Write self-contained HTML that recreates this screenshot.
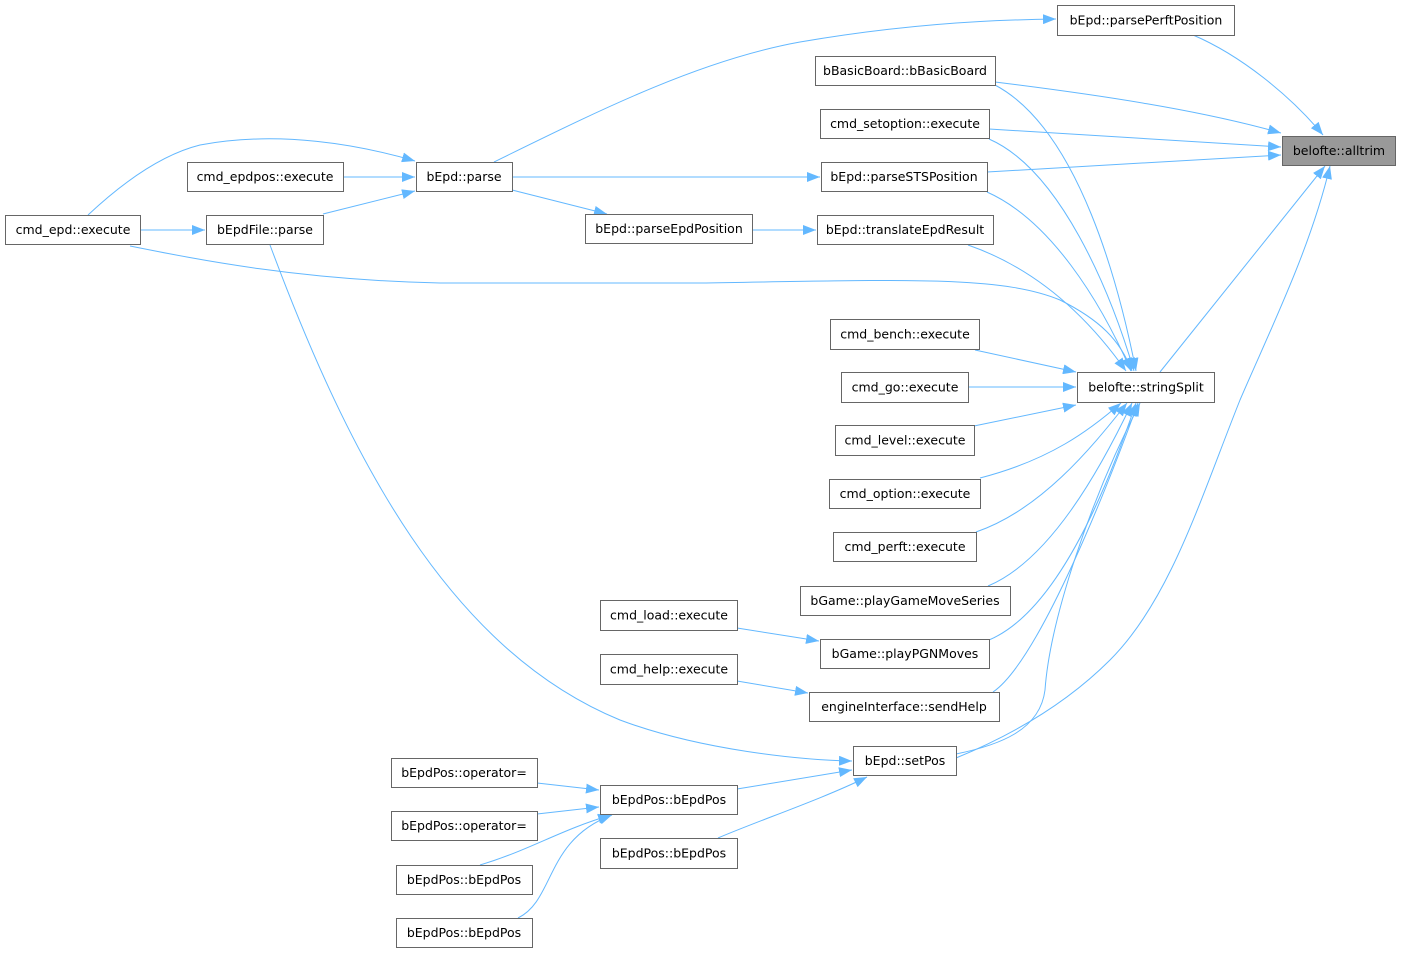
<!DOCTYPE html>
<html><head><meta charset="utf-8"><style>
html,body{margin:0;padding:0;background:#fff;}
svg{display:block;}
text{font-family:"DejaVu Sans","Liberation Sans",sans-serif;font-size:12.5px;fill:#000;}
</style></head><body>
<svg width="1401" height="954" viewBox="0 0 1401 954" xmlns="http://www.w3.org/2000/svg">
<defs>
<marker id="a" markerUnits="userSpaceOnUse" markerWidth="14" markerHeight="10" refX="13" refY="5" orient="auto">
<path d="M0,0 L13,5 L0,10 Z" fill="#63b8ff"/>
</marker>
</defs>
<g fill="none" stroke="#63b8ff" stroke-width="1" marker-end="url(#a)">
<path d="M494,162 C600,110 700,60 800,42 C900,25 980,20 1056,19"/>
<path d="M1193,35 C1240,55 1290,95 1323,135"/>
<path d="M995,82 C1100,95 1200,110 1281,133"/>
<path d="M989,129 L1281,147"/>
<path d="M987,172 L1281,155"/>
<path d="M1160,372 L1325,166"/>
<path d="M956,758 C1000,740 1060,710 1110,660 C1170,600 1200,500 1240,400 C1270,330 1310,250 1330,166"/>
<path d="M512,177 L820,177"/>
<path d="M343,177 L415,177"/>
<path d="M88,215 C120,185 160,155 200,145 C280,130 360,145 415,161"/>
<path d="M323,214 L415,191"/>
<path d="M140,230 L205,230"/>
<path d="M512,190 L607,214"/>
<path d="M752,230 L816,230"/>
<path d="M130,246 C200,260 300,280 440,283 L700,283 C900,280 1000,275 1060,300 C1100,320 1120,340 1132,371"/>
<path d="M995,85 C1080,130 1120,290 1136,371"/>
<path d="M989,139 C1060,170 1110,290 1134,371"/>
<path d="M987,192 C1050,220 1100,300 1131,371"/>
<path d="M968,245 C1040,270 1090,320 1126,371"/>
<path d="M975,350 L1076,372"/>
<path d="M968,387 L1076,387"/>
<path d="M974,426 L1076,405"/>
<path d="M980,478 C1050,460 1090,430 1121,403"/>
<path d="M976,532 C1040,510 1090,450 1127,403"/>
<path d="M988,586 C1050,560 1100,470 1132,403"/>
<path d="M989,640 C1060,610 1110,480 1136,403"/>
<path d="M993,692 C1040,660 1110,480 1138,403"/>
<path d="M956,754 C1000,745 1040,730 1045,690 C1050,620 1090,500 1140,403"/>
<path d="M270,245 C350,460 450,650 620,720 C700,750 800,760 852,761"/>
<path d="M737,628 L819,641"/>
<path d="M737,681 L808,693"/>
<path d="M737,789 L852,770"/>
<path d="M718,838 C760,820 820,800 867,777"/>
<path d="M537,783 L599,790"/>
<path d="M537,814 L599,807"/>
<path d="M480,865 C530,850 560,830 611,815"/>
<path d="M518,918 C555,900 545,840 612,815"/>
</g>
<g stroke="#666" stroke-width="1" fill="#fff">
<rect x="1057.5" y="5.5" width="177" height="30"/>
<rect x="815.5" y="56.5" width="180" height="29"/>
<rect x="820.5" y="109.5" width="169" height="29"/>
<rect x="1282.5" y="136.5" width="113" height="29" fill="#999"/>
<rect x="821.5" y="162.5" width="166" height="29"/>
<rect x="817.5" y="215.5" width="176" height="29"/>
<rect x="416.5" y="162.5" width="96" height="29"/>
<rect x="187.5" y="162.5" width="156" height="29"/>
<rect x="5.5" y="215.5" width="135" height="29"/>
<rect x="206.5" y="215.5" width="117" height="29"/>
<rect x="585.5" y="214.5" width="167" height="29"/>
<rect x="830.5" y="319.5" width="149" height="30"/>
<rect x="1077.5" y="372.5" width="137" height="30"/>
<rect x="841.5" y="372.5" width="127" height="30"/>
<rect x="835.5" y="425.5" width="139" height="30"/>
<rect x="829.5" y="479.5" width="151" height="29"/>
<rect x="833.5" y="532.5" width="143" height="29"/>
<rect x="800.5" y="586.5" width="210" height="29"/>
<rect x="600.5" y="600.5" width="137" height="30"/>
<rect x="820.5" y="639.5" width="169" height="29"/>
<rect x="600.5" y="654.5" width="137" height="30"/>
<rect x="809.5" y="692.5" width="190" height="29"/>
<rect x="853.5" y="746.5" width="103" height="29"/>
<rect x="391.5" y="758.5" width="146" height="29"/>
<rect x="600.5" y="785.5" width="137" height="29"/>
<rect x="391.5" y="811.5" width="146" height="29"/>
<rect x="600.5" y="838.5" width="137" height="30"/>
<rect x="396.5" y="865.5" width="136" height="29"/>
<rect x="396.5" y="918.5" width="136" height="29"/>
</g>
<g text-anchor="middle">
<text x="1146" y="24.5">bEpd::parsePerftPosition</text>
<text x="905" y="75">bBasicBoard::bBasicBoard</text>
<text x="905" y="128">cmd_setoption::execute</text>
<text x="1339" y="155">belofte::alltrim</text>
<text x="904" y="181">bEpd::parseSTSPosition</text>
<text x="905" y="234">bEpd::translateEpdResult</text>
<text x="464" y="181">bEpd::parse</text>
<text x="265" y="181">cmd_epdpos::execute</text>
<text x="73" y="234">cmd_epd::execute</text>
<text x="265" y="234">bEpdFile::parse</text>
<text x="669" y="233">bEpd::parseEpdPosition</text>
<text x="905" y="338.5">cmd_bench::execute</text>
<text x="1146" y="391.5">belofte::stringSplit</text>
<text x="905" y="391.5">cmd_go::execute</text>
<text x="905" y="444.5">cmd_level::execute</text>
<text x="905" y="498">cmd_option::execute</text>
<text x="905" y="551">cmd_perft::execute</text>
<text x="905" y="605">bGame::playGameMoveSeries</text>
<text x="669" y="619.5">cmd_load::execute</text>
<text x="905" y="658">bGame::playPGNMoves</text>
<text x="669" y="673.5">cmd_help::execute</text>
<text x="904" y="711">engineInterface::sendHelp</text>
<text x="905" y="765">bEpd::setPos</text>
<text x="464" y="777">bEpdPos::operator=</text>
<text x="669" y="804">bEpdPos::bEpdPos</text>
<text x="464" y="830">bEpdPos::operator=</text>
<text x="669" y="857.5">bEpdPos::bEpdPos</text>
<text x="464" y="884">bEpdPos::bEpdPos</text>
<text x="464" y="937">bEpdPos::bEpdPos</text>
</g>
</svg>
</body></html>
